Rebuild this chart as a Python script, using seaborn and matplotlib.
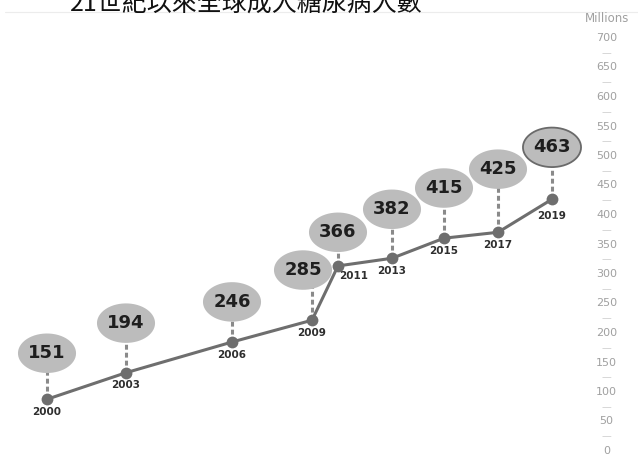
import numpy as np
import pandas as pd
import matplotlib.pyplot as plt
import seaborn as sns
from matplotlib.path import Path
from matplotlib.lines import Line2D
from matplotlib.ticker import FixedLocator, FixedFormatter

# data
years = ['2000', '2003', '2006', '2009', '2011', '2013', '2015', '2017', '2019']
values = [151, 194, 246, 285, 366, 382, 415, 425, 463]          # millions (bubble labels)
x_pos = [47, 126, 232, 312, 338, 392, 444, 498, 552]           # horizontal spacing of the infographic
dot_level = [86, 131, 183, 220, 312, 325, 359, 369, 425]       # height of the line dots on the axis
bubble_level = [164, 215, 251, 305, 369, 408, 444, 476, 513]   # height of the bubbles on the axis
bubble_x = [47, 126, 232, 303, 338, 392, 444, 498, 552]
y_ticks = list(range(0, 701, 50))

df = pd.DataFrame({'year': years, 'value': values, 'x': x_pos,
                   'dot': dot_level, 'bubble': bubble_level, 'bx': bubble_x})

sns.set_style('white')
plt.rcParams['font.family'] = ['Noto Sans CJK TC', 'DejaVu Sans']

fig = plt.figure(figsize=(6.38, 4.68), dpi=100)
ax = fig.add_axes([0, 18 / 468, 590 / 638, 413 / 468])

# dashed connectors
ax.vlines(df['x'], df['dot'], df['bubble'], colors='#8a8a8a', linewidth=2.2,
          linestyles=(0, (1.6, 1.0)), zorder=1)

# main line with dots
sns.lineplot(data=df, x='x', y='dot', ax=ax, color='#6e6e6e', linewidth=2.2,
             marker='o', markersize=8.5, markeredgewidth=0, sort=False, zorder=3)

# bubbles
theta = np.linspace(0, 2 * np.pi, 60)
ellipse = Path(np.column_stack([np.cos(theta), 0.68 * np.sin(theta)]), closed=True)
sns.scatterplot(data=df, x='bx', y='bubble', ax=ax, marker=ellipse, s=1750,
                color='#bcbcbc', edgecolor='none', zorder=4, legend=False)
last = df.iloc[[-1]]
ax.scatter(last['bx'], last['bubble'], marker=ellipse, s=1750, facecolor='none',
           edgecolor='#6a6a6a', linewidth=1.3, zorder=5)

for _, r in df.iterrows():
    ax.text(r['bx'], r['bubble'], str(r['value']), ha='center', va='center',
            fontsize=13, fontweight='bold', color='#1e1e1e', family='DejaVu Sans',
            zorder=6)
    if r['year'] == '2011':
        off = (11, -7)
    elif r['year'] == '2019':
        off = (0, -12)
    else:
        off = (0, -9)
    ax.annotate(r['year'], (r['x'], r['dot']), xytext=off, textcoords='offset points',
                ha='center', va='center', fontsize=7.5, fontweight='bold', color='#2e2e2e',
                family='DejaVu Sans', zorder=6)

ax.set_xlim(0, 590)
ax.set_ylim(0, 700)
ax.set_xlabel('')
ax.set_ylabel('')
ax.set_xticks([])
for s in ax.spines.values():
    s.set_visible(False)

ax.yaxis.tick_right()
ax.set_yticks(y_ticks)
ax.set_yticklabels([str(t) for t in y_ticks])
minor = [t + 25 for t in y_ticks[:-1]]
ax.yaxis.set_minor_locator(FixedLocator(minor))
ax.yaxis.set_minor_formatter(FixedFormatter(['—'] * len(minor)))
ax.tick_params(axis='y', which='major', length=0, pad=12, labelsize=8, labelcolor='#a0a0a0')
ax.tick_params(axis='y', which='minor', length=0, pad=12, labelsize=7, labelcolor='#d0d0d0')
for lab in ax.get_yticklabels() + ax.get_yticklabels(minor=True):
    lab.set_horizontalalignment('center')
    lab.set_family('DejaVu Sans')

fig.text(607 / 638, 1 - 18 / 468, 'Millions', ha='center', va='center',
         fontsize=8.5, color='#a0a0a0', family='DejaVu Sans')

fig.add_artist(Line2D([5 / 638, 1], [1 - 12 / 468] * 2, color='#ececec', linewidth=0.8))
fig.text(246 / 638, 1 - 17 / 468, '21世紀以來全球成人糖尿病人數', ha='center', va='bottom',
         fontsize=18, color='#111111')

fig.savefig('out.png', dpi=100)
